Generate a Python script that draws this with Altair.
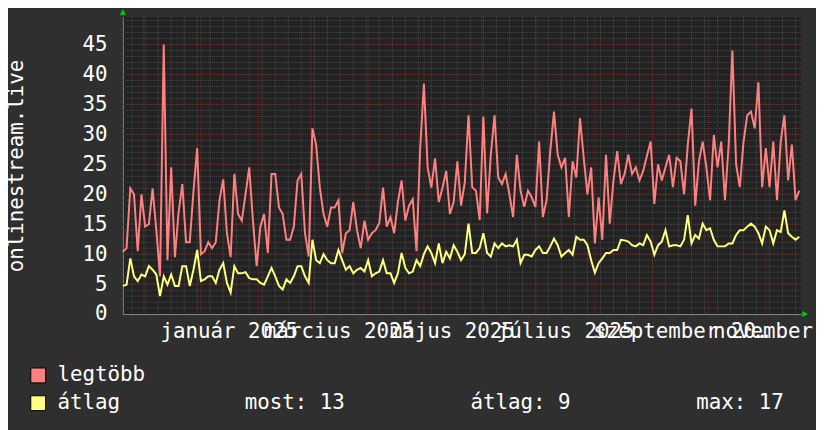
import json
import altair as alt
import pandas as pd

# ---------------- data ----------------
series_names = ["legtöbb", "átlag"]
series_colors = ["#ff8080", "#ffff80"]

# one value every 2 days, starting 2024-11-20
legtobb = [
    10.4, 11, 21, 20, 10.5, 20, 14.6, 15, 21, 14, 6.3, 45, 9, 24.5, 9.5, 17, 21.7, 12, 12, 20.5,
    27.7, 10, 10.5, 12, 11, 12, 19, 22.5, 13.5, 9.5,
    23.4, 16.7, 15.6, 20, 24.5, 15.6, 8, 14.6, 16.7, 10.2, 23.4, 23.4, 17.8, 16.7, 12.4, 12.4, 14.6, 22.3, 23.4, 13.5,
    9.6, 31, 28.3, 21.1, 16.7, 14.6, 17.8, 17.8, 19, 10.2, 13.5, 14, 18.7, 14, 11, 15.6, 12.4, 13.5, 14, 15.2,
    21.1, 14.6, 16.2, 13.5, 18.7, 22.3, 15.6, 18.1, 19.2, 10.5, 27.7, 38.5, 24.5, 21.1, 26, 18.7, 21.1, 23.9, 16.7, 18.7,
    25.5, 18.1, 22, 33.2, 21.2, 20.6, 15.7, 33, 16.8, 26.6, 33.2, 22.8, 21.7, 23.4, 20, 16.2, 26.6, 20.6, 17.9, 20.6,
    19.5, 17.9, 28.8, 16.2, 19, 27.2, 33.8, 26.6, 24.5, 26.1, 16.2, 25.5, 22.8, 32.7, 26.1, 20, 24.5, 11.8, 19.5, 12.4,
    26.6, 15.1, 22.3, 27.2, 21.7, 23.4, 26.6, 23.4, 24.5, 22.3, 23.9, 26.4, 28.8, 18.4, 25, 22.3, 24.5, 26.6, 21.2, 26.1,
    25.5, 20, 28.3, 34.3, 18.1, 25.5, 28.8, 24.5, 19, 29.9, 24.5, 28.8, 19, 28.3, 44, 25, 21.2, 28.8, 33.2, 33.8,
    31, 38.7, 21.2, 27.7, 21.2, 28.8, 19, 28.8, 33.2, 22.3, 28.3, 19, 20.6,
]
atlag = [
    4.7, 4.9, 9.3, 6.3, 5.5, 6.6, 6.3, 8, 7.4, 6.6, 3, 6.3, 4.9, 6.6, 4.7, 4.7, 8, 8, 4.7, 7.4,
    10.7, 5.5, 5.8, 6.3, 6.3, 5.2, 7.4, 8.5, 5.2, 3.6,
    8, 6.8, 6.8, 7, 6, 5.8, 5.8, 5.2, 4.9, 6.3, 7.7, 6.3, 4.7, 4.1, 5.8, 5.2, 6.3, 8, 8, 6.3,
    5.2, 12.4, 9, 8.5, 10, 9, 8.5, 8.5, 10.7, 9, 7.4, 8, 6.8, 7.4, 7.7, 7.1, 9, 6.3, 6.8, 7.1,
    9, 6.8, 6.8, 5.2, 6.8, 10.2, 7.7, 6.8, 7.1, 9, 8, 10, 11.3, 10.2, 8.5, 11.8, 8.5, 10.4, 9.3, 11.5,
    10.4, 9, 10, 15.1, 10.2, 10.2, 11, 13.5, 10.2, 9.6, 11.8, 11, 11.8, 11.3, 11.5, 11.3, 12.4, 8.5, 9.9, 9.9,
    9.6, 10.7, 11.3, 10.2, 10.2, 11.3, 12.6, 11.5, 9.6, 10.2, 10.7, 9.9, 12.9, 12.4, 12.4, 11.5, 9, 6.9, 8.5, 9.3,
    10.2, 10.2, 10.7, 10.7, 12.4, 12.3, 12.1, 11.5, 11.3, 11.8, 11.5, 13.2, 12.1, 9.9, 11.5, 12.1, 14, 11.3, 11.5, 11.5,
    11.3, 12.4, 16.5, 11.8, 13.2, 12.6, 15.1, 14, 14.3, 12.4, 11.3, 11.3, 11.3, 11.8, 11.8, 13.2, 14, 14, 14.6, 15.1,
    14.6, 13.5, 11.8, 14.6, 14, 11.8, 14, 13.7, 17.3, 13.5, 12.9, 12.4, 12.9,
]

stat_names = ["most", "átlag", "max"]
stat_values = [13, 9, 17]

month_names = ["január", "február", "március", "április", "május", "június",
               "július", "augusztus", "szeptember", "október", "november", "december"]
label_months_2025 = [1, 3, 5, 7, 9, 11]
y_tick_values = [0, 5, 10, 15, 20, 25, 30, 35, 40, 45]
y_title = "onlinestream.live"

# ---------------- styling ----------------
FONT = "DejaVu Sans Mono"
FS = 21
TXT = "#ffffff"
BACK = "#2f2f2f"
CANVAS = "#222222"
GRID = "#4c4c4c"
MGRID = "#6e2c2c"
AXIS = "#8a8a8a"
ARROW = "#00cc00"
W, H = 685, 300
Y_TOP = 49.6

dates = pd.date_range("2024-11-20", periods=len(legtobb), freq="2D").strftime("%Y-%m-%d").tolist()
df = pd.DataFrame({
    "date": dates + dates,
    "value": legtobb + atlag,
    "series": [series_names[0]] * len(legtobb) + [series_names[1]] * len(atlag),
})

x_scale = alt.Scale(type="utc", domain=[
    alt.DateTime(year=2024, month=11, date=20, utc=True),
    alt.DateTime(year=2025, month=11, date=20, utc=True),
])
y_scale = alt.Scale(domain=[0, Y_TOP], nice=False, zero=False)

month_js = json.dumps(month_names, ensure_ascii=False)
x_label_expr = month_js + "[utcmonth(datum.value)] + ' ' + utcyear(datum.value)"

x_axis = alt.Axis(
    values=[alt.DateTime(year=2025, month=m, date=16, utc=True) for m in label_months_2025],
    labelExpr=x_label_expr, grid=False, ticks=False, tickSize=0,
    domain=True, domainColor=AXIS, domainWidth=1,
    labelFont=FONT, labelFontSize=FS, labelColor=TXT, labelPadding=24,
    labelBaseline="alphabetic", labelAlign="center",
    labelOverlap=False, labelBound=False, labelFlush=False, title=None,
)
y_axis = alt.Axis(
    values=y_tick_values, grid=False, ticks=False, tickSize=0,
    domain=True, domainColor=AXIS, domainWidth=1,
    labelFont=FONT, labelFontSize=FS, labelColor=TXT, labelPadding=16,
    labelBaseline="middle", labelOverlap=False, labelFlush=False,
    title=y_title, titleFont=FONT, titleFontSize=FS, titleFontWeight="normal",
    titleColor=TXT, titleAngle=270, titleX=-101, titleY=150,
    titleAlign="center", titleBaseline="alphabetic",
)

X = lambda f: alt.X(f, scale=x_scale, axis=x_axis)
Y = lambda f: alt.Y(f, scale=y_scale, axis=y_axis)

minor_v = pd.DataFrame({"date": pd.date_range("2024-11-25", "2025-11-19", freq="7D").strftime("%Y-%m-%d")})
major_v = pd.DataFrame({"date": pd.date_range("2024-12-01", "2025-11-01", freq="MS").strftime("%Y-%m-%d")})
minor_h = pd.DataFrame({"value": list(range(1, 50))})
major_h = pd.DataFrame({"value": list(range(5, 50, 5))})


def vrule(data, color):
    return alt.Chart(data).mark_rule(color=color, strokeDash=[1, 1], strokeWidth=1).encode(x=X("date:T"))


def hrule(data, color):
    return alt.Chart(data).mark_rule(color=color, strokeDash=[1, 1], strokeWidth=1).encode(y=Y("value:Q"))


lines = alt.Chart(df).mark_line(strokeWidth=2).encode(
    x=X("date:T"),
    y=Y("value:Q"),
    color=alt.Color("series:N", scale=alt.Scale(domain=series_names, range=series_colors), legend=None),
)

# ---------------- legend block under the plot (rrdtool style) ----------------
LEG_SQ_X = -85.5          # relative to the plot origin
LEG_TXT_X = -66
LEG_ROW_Y = [362, 390]
STAT_X = [123, 351, 579]

one = pd.DataFrame({"k": [0]})


def legend_text(text, x, y):
    return alt.Chart(one).mark_text(text=text, font=FONT, fontSize=FS, color=TXT,
                                    align="left", baseline="middle").encode(
        x=alt.value(x), y=alt.value(y))


legend_parts = []
for i in range(2):
    legend_parts.append(
        alt.Chart(one).mark_square(size=225, filled=True, opacity=1, color=series_colors[i],
                                   stroke="#000000", strokeWidth=1).encode(
            x=alt.value(LEG_SQ_X), y=alt.value(LEG_ROW_Y[i]))
    )
    legend_parts.append(legend_text(series_names[i], LEG_TXT_X, LEG_ROW_Y[i]))
for n, v, sx in zip(stat_names, stat_values, STAT_X):
    legend_parts.append(legend_text(f"{n}: {v}", sx, LEG_ROW_Y[1]))

arrow_top = alt.Chart(pd.DataFrame({"date": ["2024-11-20"], "value": [Y_TOP]})).mark_point(
    shape="triangle-up", filled=True, color=ARROW, opacity=1, size=40, yOffset=-5).encode(
    x=X("date:T"), y=Y("value:Q"))
arrow_right = alt.Chart(pd.DataFrame({"date": ["2025-11-20"], "value": [0]})).mark_point(
    shape="triangle-right", filled=True, color=ARROW, opacity=1, size=40, xOffset=4).encode(
    x=X("date:T"), y=Y("value:Q"))

chart = alt.layer(
    lines.mark_line(opacity=0),  # carries the axes first
    vrule(minor_v, GRID), hrule(minor_h, GRID),
    vrule(major_v, MGRID), hrule(major_h, MGRID),
    lines, arrow_top, arrow_right, *legend_parts,
).properties(
    width=W, height=H,
    padding={"left": 116, "top": 7, "right": 15, "bottom": 115},
    autosize=alt.AutoSizeParams(type="none"),
    background=BACK,
).configure_view(fill=CANVAS, stroke=None)

chart.save("out.html", embed_options={"renderer": "svg", "actions": False})
